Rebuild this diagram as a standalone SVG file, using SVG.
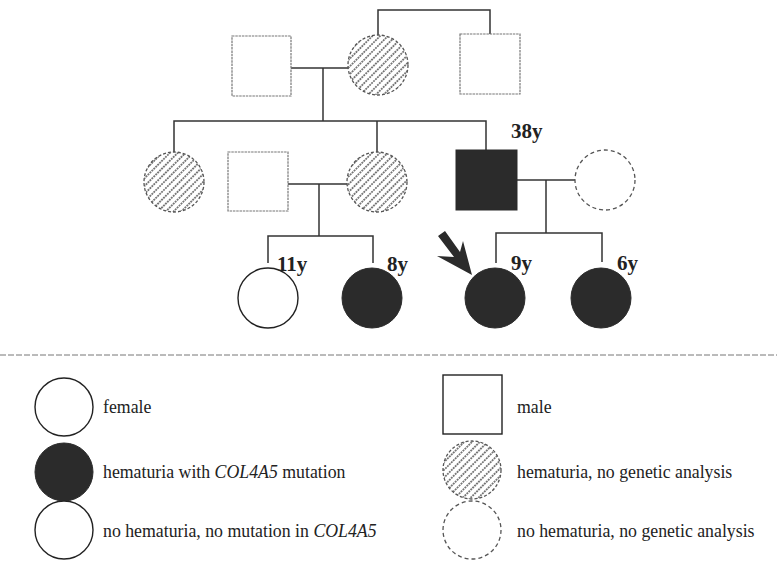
<svg xmlns="http://www.w3.org/2000/svg" width="777" height="562" viewBox="0 0 777 562">
<style>
.sq{fill:#fff;stroke:#777;stroke-width:1.2;stroke-dasharray:2.5 0.8}
.hatch{fill:url(#hp);stroke:#555;stroke-width:1.3;stroke-dasharray:3 2}
.dash{fill:#fff;stroke:#555;stroke-width:1.3;stroke-dasharray:4 3}
.open{fill:#fff;stroke:#222;stroke-width:1.4}
.aff{fill:#2b2b2b;stroke:#2b2b2b;stroke-width:1}
.conn{fill:none;stroke:#333;stroke-width:1.5}
.age{font-family:"Liberation Serif",serif;font-weight:bold;font-size:21px;fill:#222}
.lg{font-family:"Liberation Serif",serif;font-size:17.8px;fill:#222}
</style>
<defs>
<pattern id="hp" patternUnits="userSpaceOnUse" width="5.5" height="5.5" patternTransform="rotate(-45)">
<rect width="5.5" height="5.5" fill="#fff"/>
<line x1="0" y1="2.75" x2="5.5" y2="2.75" stroke="#444" stroke-width="1.3" stroke-dasharray="1.8 0.9"/>
</pattern>
</defs>
<g id="connectors">
<polyline class="conn" points="378,35 378,10 490,10 490,34"/>
<line class="conn" x1="291" y1="68" x2="348" y2="68"/>
<line class="conn" x1="323" y1="68" x2="323" y2="121"/>
<polyline class="conn" points="174,152 174,121 486,121 486,150"/>
<line class="conn" x1="377" y1="121" x2="377" y2="152"/>
<line class="conn" x1="288" y1="184" x2="347" y2="184"/>
<polyline class="conn" points="319,184 319,236"/>
<polyline class="conn" points="268,263 268,236 373,236 373,263"/>
<line class="conn" x1="517" y1="180" x2="575" y2="180"/>
<line class="conn" x1="546" y1="180" x2="546" y2="233"/>
<polyline class="conn" points="496,263 496,233 602,233 602,262"/>
<line x1="0" y1="355" x2="777" y2="355" stroke="#777" stroke-width="1" stroke-dasharray="6 2"/>
</g>
<g id="gen1-male-left"><rect class="sq" x="232" y="36" width="59" height="60"/></g>
<g id="gen1-female"><circle class="hatch" cx="378" cy="65" r="30"/></g>
<g id="gen1-male-right"><rect class="sq" x="460" y="34" width="60" height="60"/></g>
<g id="gen2-female-1"><circle class="hatch" cx="174" cy="182" r="30"/></g>
<g id="gen2-male-spouse"><rect class="sq" x="228" y="152" width="60" height="59"/></g>
<g id="gen2-female-2"><circle class="hatch" cx="377" cy="182" r="30"/></g>
<g id="gen2-male-38y"><rect class="aff" x="456" y="150" width="61" height="60"/><text class="age" x="511" y="138">38y</text></g>
<g id="gen2-female-spouse"><circle class="dash" cx="605" cy="180" r="30"/></g>
<g id="gen3-11y"><circle class="open" cx="268" cy="298" r="30"/><text class="age" x="277" y="271">11y</text></g>
<g id="gen3-8y"><circle class="aff" cx="372" cy="298" r="30"/><text class="age" x="387" y="271">8y</text></g>
<g id="gen3-9y"><circle class="aff" cx="495" cy="298" r="30"/><text class="age" x="511" y="270">9y</text>
<polygon fill="#2b2b2b" points="438,236 445,231 460,252 463,241 472,275 437,256 454,257"/></g>
<g id="gen3-6y"><circle class="aff" cx="601" cy="298" r="30"/><text class="age" x="617" y="270">6y</text></g>
<g id="legend">
<g id="lg-female"><circle class="open" cx="64" cy="407" r="29"/><text class="lg" x="103" y="413">female</text></g>
<g id="lg-affected"><circle class="aff" cx="64" cy="472" r="29"/><text class="lg" x="103" y="478">hematuria with <tspan font-style="italic">COL4A5</tspan> mutation</text></g>
<g id="lg-nomut"><circle class="open" cx="64" cy="530" r="29"/><text class="lg" x="103" y="537">no hematuria, no mutation in <tspan font-style="italic">COL4A5</tspan></text></g>
<g id="lg-male"><rect class="open" x="443" y="375" width="59" height="59" stroke="#555"/><text class="lg" x="517" y="413">male</text></g>
<g id="lg-hatch"><circle class="hatch" cx="472" cy="470" r="29"/><text class="lg" x="517" y="478">hematuria, no genetic analysis</text></g>
<g id="lg-dash"><circle class="dash" cx="472" cy="530" r="29"/><text class="lg" x="517" y="537">no hematuria, no genetic analysis</text></g>
</g>
</svg>
